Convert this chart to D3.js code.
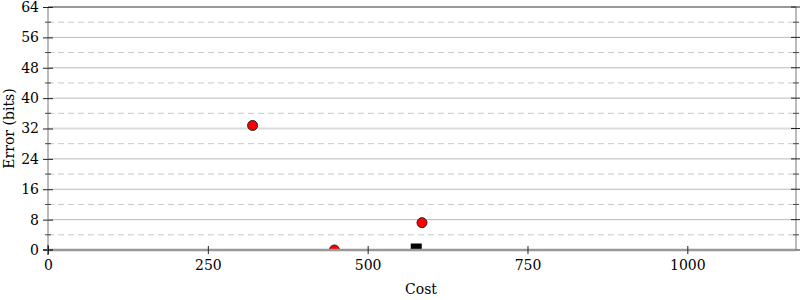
<!DOCTYPE html>
<html><head><meta charset="utf-8">
<script src="https://cdn.jsdelivr.net/npm/d3@7"></script>
<style>body{margin:0;background:#fff}svg{display:block}</style>
</head><body>
<svg id="c" width="800" height="300"></svg>
<script>
const circleCost = [320, 448, 585];
const circleError = [32.8, 0, 7.2];
const squareCost = [576];
const squareError = [0];
const yMajorTicks = [0, 8, 16, 24, 32, 40, 48, 56, 64];
const yMinorTicks = [4, 12, 20, 28, 36, 44, 52, 60];
const xTicks = [0, 250, 500, 750, 1000];
const xLabel = "Cost";
const yLabel = "Error (bits)";

const svg = d3.select("#c");
const L = 48, R = 796, T = 7, B = 250;
const x = d3.scaleLinear().domain([0, 1170]).range([L, R]);
const y = d3.scaleLinear().domain([0, 64]).range([B, T]);
const font = "DejaVu Serif";
const fs = 14;

// grid
svg.append("g").selectAll("line").data(yMinorTicks).join("line")
  .attr("x1", L).attr("x2", R).attr("y1", d => y(d)).attr("y2", d => y(d))
  .attr("stroke", "#c8c8c8").attr("stroke-dasharray", "6,4");
svg.append("g").selectAll("line").data(yMajorTicks.filter(d => d > 0 && d < 64)).join("line")
  .attr("x1", L).attr("x2", R).attr("y1", d => y(d)).attr("y2", d => y(d))
  .attr("stroke", d => d === 32 ? "#dcdcdc" : "#bbbbbb")
  .attr("stroke-width", d => d === 32 ? 2 : 1);

// frame
svg.append("line").attr("x1", L).attr("x2", L).attr("y1", T).attr("y2", B).attr("stroke", "#bbb").attr("stroke-width", 2);
svg.append("line").attr("x1", R).attr("x2", R).attr("y1", T).attr("y2", B).attr("stroke", "#bbb").attr("stroke-width", 2);
svg.append("line").attr("x1", L).attr("x2", R).attr("y1", T).attr("y2", T).attr("stroke", "#999").attr("stroke-width", 2);

// y axis left
const yAxisL = d3.axisLeft(y).tickValues(yMajorTicks).tickSize(5).tickPadding(4);
const gyl = svg.append("g").attr("transform", `translate(${L},0)`).call(yAxisL);
gyl.select(".domain").remove();
gyl.selectAll(".tick line").attr("x2", -5).attr("x1", 5).attr("stroke", "#222");
gyl.selectAll("text").attr("font-family", font).attr("font-size", fs).attr("fill", "#000");
svg.append("g").selectAll("line").data(yMinorTicks).join("line")
  .attr("x1", L - 3).attr("x2", L + 3).attr("y1", d => y(d)).attr("y2", d => y(d)).attr("stroke", "#444");
// y axis right ticks
svg.append("g").selectAll("line").data(yMajorTicks).join("line")
  .attr("x1", R - 5).attr("x2", R + 5).attr("y1", d => y(d)).attr("y2", d => y(d)).attr("stroke", "#222");
svg.append("g").selectAll("line").data(yMinorTicks).join("line")
  .attr("x1", R - 3).attr("x2", R + 3).attr("y1", d => y(d)).attr("y2", d => y(d)).attr("stroke", "#444");

// points (clipped to plot area)
svg.append("clipPath").attr("id", "clip").append("rect").attr("x", L).attr("y", T).attr("width", R - L).attr("height", B - T);
const pts = svg.append("g").attr("clip-path", "url(#clip)");
pts.selectAll("rect").data(squareCost).join("rect")
  .attr("x", (d) => x(d) - 5.5).attr("y", (d, i) => y(squareError[i]) - 6.5)
  .attr("width", 11).attr("height", 13).attr("fill", "#000");
pts.selectAll("circle").data(circleCost).join("circle")
  .attr("cx", d => x(d)).attr("cy", (d, i) => y(circleError[i])).attr("r", 5)
  .attr("fill", "#f00").attr("stroke", "#222").attr("stroke-width", 1);

// x axis
const xAxis = d3.axisBottom(x).tickValues(xTicks).tickFormat(d3.format("d")).tickSize(4).tickPadding(6);
const gx = svg.append("g").attr("transform", `translate(0,${B})`).call(xAxis);
gx.select(".domain").remove();
gx.selectAll(".tick line").attr("y1", -4).attr("y2", 4).attr("stroke", "#222");
gx.selectAll("text").attr("font-family", font).attr("font-size", fs).attr("fill", "#000");
// bottom line above points
svg.append("line").attr("x1", L).attr("x2", R).attr("y1", B).attr("y2", B).attr("stroke", "#999").attr("stroke-width", 2.5);
svg.append("line").attr("x1", L - 5).attr("x2", L + 5).attr("y1", B).attr("y2", B).attr("stroke", "#444").attr("stroke-width", 2);
svg.append("line").attr("x1", L).attr("x2", L).attr("y1", B - 5).attr("y2", B + 5).attr("stroke", "#444").attr("stroke-width", 1.5);
gx.raise();

// labels
svg.append("text").attr("x", (L + R) / 2 - 1).attr("y", 294).attr("text-anchor", "middle")
  .attr("font-family", font).attr("font-size", fs).text(xLabel);
svg.append("text").attr("transform", `translate(14,${(T + B) / 2}) rotate(-90)`).attr("text-anchor", "middle")
  .attr("font-family", font).attr("font-size", fs).text(yLabel);
</script>
</body></html>
